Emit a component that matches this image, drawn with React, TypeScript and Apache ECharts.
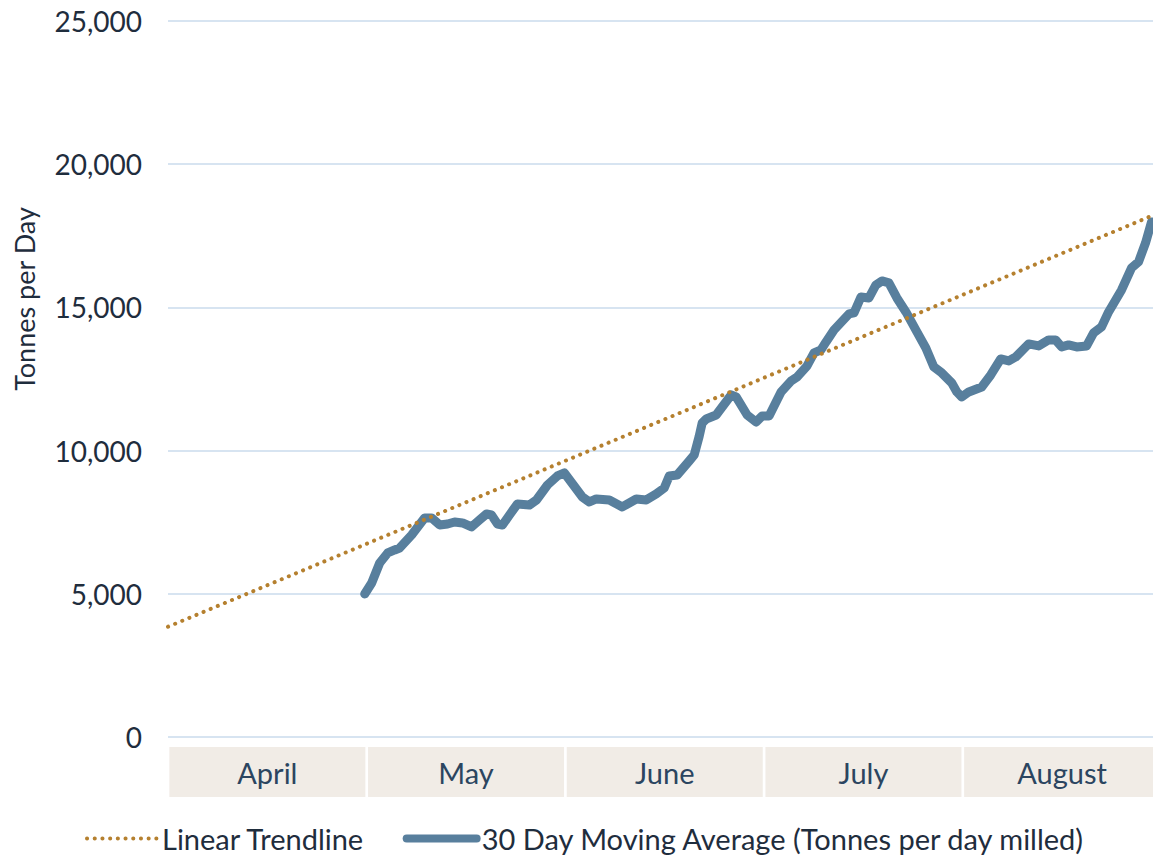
import React, { useEffect, useRef } from "react";
import * as echarts from "echarts";

const months = ["April", "May", "June", "July", "August"];
const yTicks = [0, 5000, 10000, 15000, 20000, 25000];

// day offset from April 1 (5 equal month bands of 30 days)
const avgDays = [
  29.7, 30.75, 31.96, 33.17, 34.22, 34.97, 36.78, 38.74, 39.8, 41.01, 42.21, 43.27, 44.47, 45.83,
  47.04, 48.09, 48.84, 49.75, 50.5, 51.56, 52.76, 54.57, 55.63, 57.29, 58.79, 59.85, 62.56, 63.62,
  64.67, 66.63, 68.59, 70.7, 72.21, 73.72, 74.92, 75.68, 76.88, 78.69, 79.45, 80.2, 80.65, 81.26,
  82.76, 85.03, 85.78, 87.44, 88.79, 89.7, 90.75, 92.56, 94.07, 94.98, 96.48, 97.54, 98.59, 99.35,
  100.55, 102.81, 103.57, 104.62, 105.83, 106.88, 107.79, 108.84, 110.05, 111.41, 113.07, 114.42,
  115.63, 116.83, 118.34, 119.1, 119.85, 120.9, 122.86, 124.22, 125.73, 126.94, 127.99, 129.95,
  131.46, 132.96, 134.02, 134.92, 135.98, 137.19, 138.69, 139.75, 140.95, 142.01, 143.97, 145.48,
  146.53, 147.59, 148.49,
];
const avgValues = [
  4994, 5378, 6076, 6425, 6530, 6600, 7054, 7648, 7648, 7403, 7438, 7508, 7473, 7333,
  7578, 7787, 7752, 7438, 7403, 7752, 8136, 8101, 8276, 8800, 9114, 9219, 8381, 8206,
  8311, 8276, 8032, 8311, 8276, 8486, 8695, 9114, 9149, 9638, 9850, 10500, 10965, 11105,
  11244, 11943, 11873, 11244, 11000, 11209, 11209, 12048, 12432, 12572, 12956, 13410, 13514, 13794,
  14212, 14771, 14806, 15365, 15330, 15784, 15924, 15854, 15330, 14841, 14143, 13584,
  12921, 12711, 12362, 12048, 11873, 12048, 12222, 12641, 13200, 13130, 13270, 13724,
  13654, 13863, 13863, 13619, 13689, 13619, 13654, 14108, 14317, 14841, 15609, 16377,
  16587, 17251, 17984,
];

const trendDays = [0, 150];
const trendValues = [3850, 18340];

const FONT = "Lato, 'Noto Sans', sans-serif";
const TREND = "Linear Trendline";
const AVG = "30 Day Moving Average (Tonnes per day milled)";

export default function App() {
  const ref = useRef<HTMLDivElement>(null);

  useEffect(() => {
    if (!ref.current) return;
    const chart = echarts.init(ref.current, undefined, { renderer: "svg" });
    chart.setOption({
      animation: false,
      backgroundColor: "#ffffff",
      textStyle: { fontFamily: FONT },
      grid: { left: 168, right: 0, top: 21, bottom: 123, containLabel: false },
      legend: {
        top: 819,
        left: 80,
        itemWidth: 70,
        itemHeight: 12,
        itemGap: 38,
        itemStyle: { opacity: 0 },
        textStyle: { fontSize: 29, color: "#1f2d3d", fontFamily: FONT },
        data: [
          { name: TREND, lineStyle: { width: 4, type: [0.1, 7.6], cap: "round", color: "#b5802f" } },
          { name: AVG, lineStyle: { width: 8, cap: "round", color: "#587f9d" } },
        ],
      },
      xAxis: [
        {
          type: "category",
          data: months,
          boundaryGap: true,
          axisLine: { show: false },
          axisTick: { show: false },
          splitLine: { show: false },
          axisLabel: {
            margin: 10,
            fontSize: 29,
            color: "#2b4560",
            fontFamily: FONT,
            backgroundColor: "#f1ece6",
            width: 196,
            height: 50,
            lineHeight: 50,
            align: "center",
            verticalAlign: "top",
            interval: 0,
          },
        },
        {
          type: "value",
          min: 0,
          max: 150,
          show: false,
        },
      ],
      yAxis: {
        type: "value",
        min: yTicks[0],
        max: yTicks[yTicks.length - 1],
        interval: yTicks[1] - yTicks[0],
        axisLine: { show: false },
        axisTick: { show: false },
        splitLine: { lineStyle: { color: "#d7e4f1", width: 2 } },
        axisLabel: {
          margin: 26,
          fontSize: 28,
          color: "#1f2d3d",
          fontFamily: FONT,
          formatter: (v: number) => v.toLocaleString("en-US"),
        },
      },
      graphic: [
        {
          type: "text",
          x: 24,
          y: 299,
          rotation: Math.PI / 2,
          style: {
            text: "Tonnes per Day",
            fontSize: 27,
            fontFamily: FONT,
            fill: "#1f2d3d",
            align: "center",
            verticalAlign: "middle",
          },
        },
      ],
      series: [
        {
          name: TREND,
          type: "line",
          xAxisIndex: 1,
          data: trendDays.map((d, i) => [d, trendValues[i]]),
          symbol: "none",
          lineStyle: { color: "#b5802f", width: 4, type: [0.1, 7.6], cap: "round" },
          itemStyle: { color: "#b5802f" },
          z: 3,
        },
        {
          name: AVG,
          type: "line",
          xAxisIndex: 1,
          data: avgDays.map((d, i) => [d, avgValues[i]]),
          symbol: "none",
          lineStyle: { color: "#587f9d", width: 9, cap: "round", join: "round" },
          itemStyle: { color: "#587f9d" },
          z: 2,
        },
      ],
    });
    return () => chart.dispose();
  }, []);

  return (
    <div style={{ position: "absolute", left: 0, top: 0, width: 1153, height: 860, overflow: "hidden" }}>
      <div ref={ref} style={{ width: 1163, height: 860 }} />
    </div>
  );
}
